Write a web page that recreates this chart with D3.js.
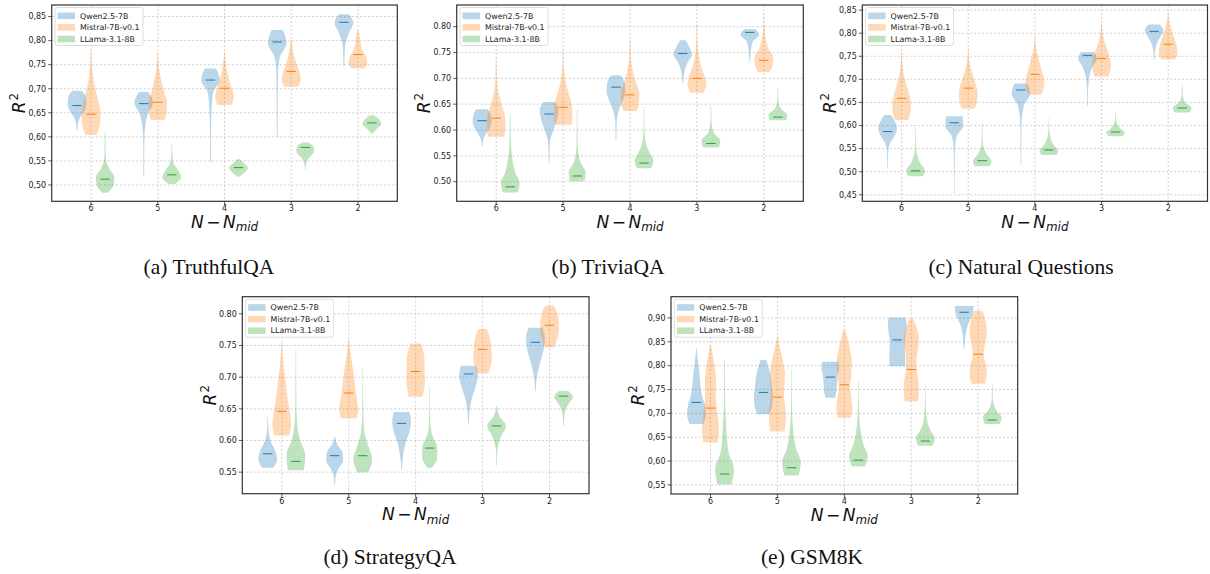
<!DOCTYPE html>
<html>
<head>
<meta charset="utf-8">
<script src="https://cdn.jsdelivr.net/npm/d3@7"></script>
<style>
  body { margin: 0; background: #fff; }
  svg { display: block; }
</style>
</head>
<body>
<svg id="fig" width="1210" height="574"></svg>
<script>
// groups on the x axis and the three models
const groups = ["6", "5", "4", "3", "2"];
const seriesNames = ["Qwen2.5-7B", "Mistral-7B-v0.1", "LLama-3.1-8B"];
const colors = ["#1f77b4", "#ff7f0e", "#2ca02c"];

// each violin: [min, max, median, relative widths sampled from min to max]
const truthfulQwen = [
  [0.613, 0.696, 0.665, [0.05, 0.1, 0.35, 0.8, 1.0, 0.95, 0.5]],
  [0.517, 0.693, 0.669, [0.04, 0.05, 0.05, 0.06, 0.08, 0.2, 0.45, 1.0, 0.5]],
  [0.545, 0.742, 0.718, [0.04, 0.05, 0.05, 0.06, 0.09, 0.15, 0.3, 1.0, 0.6]],
  [0.600, 0.822, 0.797, [0.04, 0.05, 0.05, 0.06, 0.07, 0.1, 0.3, 1.0, 0.6]],
  [0.746, 0.855, 0.838, [0.05, 0.07, 0.1, 0.25, 0.6, 1.0, 0.55]]
];
const truthfulMistral = [
  [0.604, 0.781, 0.647, [0.6, 0.95, 1.0, 0.8, 0.55, 0.3, 0.15, 0.07, 0.03]],
  [0.635, 0.777, 0.672, [0.75, 0.95, 1.0, 0.75, 0.5, 0.3, 0.15, 0.07, 0.03]],
  [0.666, 0.777, 0.701, [0.75, 1.0, 0.75, 0.45, 0.25, 0.12, 0.04]],
  [0.704, 0.801, 0.736, [0.75, 1.0, 0.85, 0.55, 0.3, 0.15, 0.05]],
  [0.742, 0.820, 0.771, [0.7, 1.0, 0.85, 0.45, 0.3, 0.2, 0.12]]
];
const truthfulLlama = [
  [0.484, 0.612, 0.512, [0.3, 0.9, 1.0, 0.5, 0.15, 0.07, 0.05, 0.04, 0.03]],
  [0.502, 0.586, 0.521, [0.35, 1.0, 0.7, 0.2, 0.07, 0.05, 0.03]],
  [0.517, 0.554, 0.536, [0.1, 0.7, 1.0, 0.6, 0.1]],
  [0.532, 0.588, 0.578, [0.04, 0.08, 0.2, 0.6, 0.95, 0.9, 0.3]],
  [0.607, 0.645, 0.629, [0.1, 0.5, 1.0, 0.8, 0.2]]
];

const triviaQwen = [
  [0.568, 0.640, 0.618, [0.04, 0.1, 0.4, 0.8, 1.0, 0.95, 0.6]],
  [0.534, 0.654, 0.631, [0.04, 0.05, 0.07, 0.12, 0.35, 0.65, 0.9, 1.0, 0.6]],
  [0.579, 0.706, 0.683, [0.04, 0.05, 0.07, 0.15, 0.4, 0.75, 1.0, 0.95, 0.5]],
  [0.690, 0.774, 0.748, [0.04, 0.1, 0.25, 0.55, 1.0, 0.7, 0.3]],
  [0.730, 0.795, 0.789, [0.04, 0.06, 0.1, 0.2, 0.4, 1.0, 0.6]]
];
const triviaMistral = [
  [0.587, 0.742, 0.623, [0.85, 1.0, 0.95, 0.65, 0.35, 0.15, 0.07, 0.04, 0.03]],
  [0.610, 0.756, 0.644, [0.9, 1.0, 0.95, 0.7, 0.4, 0.2, 0.08, 0.04, 0.03]],
  [0.637, 0.775, 0.668, [0.7, 0.95, 1.0, 0.7, 0.4, 0.2, 0.1, 0.05, 0.03]],
  [0.672, 0.806, 0.700, [0.7, 1.0, 0.8, 0.45, 0.25, 0.12, 0.06, 0.04, 0.03]],
  [0.712, 0.826, 0.735, [0.6, 0.95, 1.0, 0.55, 0.3, 0.15, 0.08, 0.04, 0.03]]
];
const triviaLlama = [
  [0.479, 0.632, 0.490, [0.8, 1.0, 0.55, 0.3, 0.15, 0.08, 0.05, 0.04, 0.03]],
  [0.501, 0.639, 0.511, [0.8, 0.9, 0.4, 0.15, 0.07, 0.05, 0.04, 0.03, 0.03]],
  [0.526, 0.645, 0.536, [0.75, 1.0, 0.6, 0.25, 0.1, 0.05, 0.04, 0.03, 0.03]],
  [0.566, 0.648, 0.574, [0.85, 1.0, 0.35, 0.12, 0.05, 0.04, 0.03]],
  [0.619, 0.681, 0.625, [0.9, 1.0, 0.4, 0.12, 0.05, 0.04, 0.03]]
];

const naturalQwen = [
  [0.507, 0.623, 0.587, [0.04, 0.04, 0.05, 0.1, 0.35, 0.8, 1.0, 0.8, 0.35]],
  [0.453, 0.620, 0.606, [0.04, 0.04, 0.04, 0.05, 0.06, 0.1, 0.3, 0.95, 0.9]],
  [0.514, 0.691, 0.677, [0.04, 0.04, 0.05, 0.05, 0.07, 0.15, 0.4, 1.0, 0.7]],
  [0.642, 0.759, 0.752, [0.04, 0.04, 0.05, 0.08, 0.15, 0.3, 0.6, 1.0, 0.7]],
  [0.742, 0.819, 0.804, [0.04, 0.06, 0.15, 0.35, 0.7, 1.0, 0.6]]
];
const naturalMistral = [
  [0.612, 0.760, 0.659, [0.7, 0.95, 1.0, 0.8, 0.55, 0.3, 0.15, 0.07, 0.03]],
  [0.637, 0.768, 0.681, [0.7, 0.95, 1.0, 0.85, 0.6, 0.35, 0.15, 0.07, 0.03]],
  [0.667, 0.792, 0.711, [0.7, 0.95, 1.0, 0.8, 0.6, 0.4, 0.2, 0.08, 0.03]],
  [0.706, 0.824, 0.745, [0.75, 0.95, 1.0, 0.85, 0.6, 0.35, 0.18, 0.08, 0.03]],
  [0.743, 0.843, 0.776, [0.7, 1.0, 0.95, 0.8, 0.6, 0.4, 0.22, 0.1, 0.03]]
];
const naturalLlama = [
  [0.490, 0.597, 0.502, [0.8, 1.0, 0.55, 0.25, 0.1, 0.05, 0.04, 0.03, 0.03]],
  [0.512, 0.605, 0.524, [0.8, 1.0, 0.55, 0.25, 0.1, 0.05, 0.04, 0.03, 0.03]],
  [0.536, 0.615, 0.547, [0.8, 1.0, 0.6, 0.3, 0.15, 0.07, 0.04, 0.03, 0.03]],
  [0.577, 0.626, 0.586, [0.7, 1.0, 0.55, 0.2, 0.08, 0.04, 0.03]],
  [0.628, 0.691, 0.638, [0.8, 1.0, 0.4, 0.12, 0.05, 0.04, 0.03]]
];

const strategyQwen = [
  [0.557, 0.638, 0.579, [0.6, 1.0, 0.8, 0.35, 0.12, 0.05, 0.03]],
  [0.530, 0.606, 0.576, [0.04, 0.1, 0.4, 0.9, 0.85, 0.3, 0.04]],
  [0.554, 0.645, 0.627, [0.04, 0.1, 0.25, 0.5, 0.85, 1.0, 0.85]],
  [0.625, 0.718, 0.705, [0.04, 0.08, 0.2, 0.45, 0.8, 1.0, 0.8]],
  [0.678, 0.778, 0.755, [0.04, 0.1, 0.3, 0.6, 0.9, 1.0, 0.75]]
];
const strategyMistral = [
  [0.608, 0.754, 0.646, [0.8, 1.0, 0.85, 0.65, 0.5, 0.35, 0.2, 0.1, 0.03]],
  [0.635, 0.759, 0.675, [0.85, 1.0, 0.85, 0.7, 0.6, 0.45, 0.3, 0.15, 0.03]],
  [0.669, 0.753, 0.709, [0.75, 0.9, 1.0, 0.95, 0.95, 0.85, 0.55]],
  [0.706, 0.776, 0.744, [0.6, 0.85, 1.0, 0.95, 0.9, 0.75, 0.45]],
  [0.747, 0.813, 0.782, [0.5, 0.75, 0.95, 1.0, 0.95, 0.8, 0.45]]
];
const strategyLlama = [
  [0.553, 0.743, 0.567, [0.85, 1.0, 0.45, 0.15, 0.07, 0.05, 0.04, 0.03, 0.03]],
  [0.550, 0.714, 0.576, [0.6, 1.0, 0.6, 0.2, 0.08, 0.05, 0.04, 0.03, 0.03]],
  [0.557, 0.685, 0.588, [0.25, 0.8, 0.8, 0.35, 0.1, 0.05, 0.04, 0.03, 0.03]],
  [0.561, 0.654, 0.623, [0.04, 0.05, 0.15, 0.5, 1.0, 0.3, 0.04]],
  [0.622, 0.678, 0.670, [0.04, 0.06, 0.1, 0.25, 0.6, 1.0, 0.5]]
];

const gsmQwen = [
  [0.678, 0.836, 0.723, [0.75, 1.0, 0.9, 0.6, 0.45, 0.35, 0.25, 0.12, 0.04]],
  [0.698, 0.812, 0.744, [0.65, 0.95, 1.0, 0.9, 0.8, 0.6, 0.3]],
  [0.733, 0.808, 0.776, [0.5, 0.65, 0.7, 0.75, 0.8, 0.95, 0.85]],
  [0.799, 0.901, 0.854, [0.85, 0.85, 0.8, 0.8, 0.9, 1.0, 0.9]],
  [0.834, 0.925, 0.912, [0.04, 0.08, 0.15, 0.3, 0.6, 0.95, 1.0]]
];
const gsmMistral = [
  [0.639, 0.842, 0.711, [0.75, 0.9, 0.8, 0.65, 0.55, 0.6, 0.5, 0.3, 0.08]],
  [0.662, 0.859, 0.734, [0.75, 0.9, 0.85, 0.7, 0.75, 0.8, 0.6, 0.3, 0.05]],
  [0.691, 0.875, 0.760, [0.7, 0.85, 0.7, 0.6, 0.75, 0.8, 0.65, 0.4, 0.1]],
  [0.725, 0.899, 0.792, [0.7, 0.8, 0.75, 0.6, 0.55, 0.7, 0.8, 0.6, 0.2]],
  [0.762, 0.915, 0.824, [0.7, 0.9, 0.85, 0.6, 0.65, 0.85, 0.9, 0.75, 0.45]]
];
const gsmLlama = [
  [0.551, 0.812, 0.573, [0.75, 1.0, 0.45, 0.25, 0.15, 0.08, 0.05, 0.04, 0.03]],
  [0.570, 0.791, 0.586, [0.75, 1.0, 0.5, 0.25, 0.12, 0.06, 0.04, 0.03, 0.03]],
  [0.589, 0.767, 0.602, [0.7, 1.0, 0.55, 0.3, 0.15, 0.08, 0.04, 0.03, 0.03]],
  [0.632, 0.760, 0.642, [0.75, 1.0, 0.55, 0.25, 0.12, 0.06, 0.04, 0.03, 0.03]],
  [0.678, 0.760, 0.686, [0.8, 1.0, 0.45, 0.15, 0.06, 0.04, 0.03]]
];

// y tick labels of each panel
const ticksA = [0.50, 0.55, 0.60, 0.65, 0.70, 0.75, 0.80, 0.85];
const ticksB = [0.50, 0.55, 0.60, 0.65, 0.70, 0.75, 0.80];
const ticksC = [0.45, 0.50, 0.55, 0.60, 0.65, 0.70, 0.75, 0.80, 0.85];
const ticksD = [0.55, 0.60, 0.65, 0.70, 0.75, 0.80];
const ticksE = [0.55, 0.60, 0.65, 0.70, 0.75, 0.80, 0.85, 0.90];

const panels = [
  { caption: "(a) TruthfulQA", left: 51.7, top: 5, w: 345.6, h: 196.3, ylim: [0.466, 0.874], ticks: ticksA, comma: true,
    data: [truthfulQwen, truthfulMistral, truthfulLlama], capX: 209, capY: 274 },
  { caption: "(b) TriviaQA", left: 456.7, top: 5, w: 346.6, h: 196.3, ylim: [0.462, 0.842], ticks: ticksB, comma: false,
    data: [triviaQwen, triviaMistral, triviaLlama], capX: 608, capY: 274 },
  { caption: "(c) Natural Questions", left: 862.3, top: 5, w: 345.2, h: 196.3, ylim: [0.436, 0.861], ticks: ticksC, comma: true,
    data: [naturalQwen, naturalMistral, naturalLlama], capX: 1021, capY: 274 },
  { caption: "(d) StrategyQA", left: 242.3, top: 296.7, w: 346.7, h: 197, ylim: [0.516, 0.827], ticks: ticksD, comma: false,
    data: [strategyQwen, strategyMistral, strategyLlama], capX: 390, capY: 564 },
  { caption: "(e) GSM8K", left: 671, top: 296.7, w: 346.7, h: 197.3, ylim: [0.531, 0.9446], ticks: ticksE, comma: true,
    data: [gsmQwen, gsmMistral, gsmLlama], capX: 812, capY: 564 }
];

const svg = d3.select("#fig");
const offsets = [-0.21, 0, 0.21];
const vWidth = 0.28; // violin width in x units
const font = "'DejaVu Sans', sans-serif";

function drawPanel(p) {
  let g = svg.append("g");
  let x = d3.scaleLinear().domain([-0.59, 4.59]).range([p.left, p.left + p.w]);
  let y = d3.scaleLinear().domain(p.ylim).range([p.top + p.h, p.top]);
  let fmt = d3.format(".2f");
  let label = v => p.comma ? fmt(v).replace(".", ",") : fmt(v);

  // grid
  g.append("g").selectAll("line").data(p.ticks).enter().append("line")
    .attr("x1", p.left).attr("x2", p.left + p.w)
    .attr("y1", d => y(d)).attr("y2", d => y(d))
    .attr("stroke", "#c4c4c4").attr("stroke-width", 0.8).attr("stroke-dasharray", "2,2");
  g.append("g").selectAll("line").data(groups).enter().append("line")
    .attr("x1", (d, i) => x(i)).attr("x2", (d, i) => x(i))
    .attr("y1", p.top).attr("y2", p.top + p.h)
    .attr("stroke", "#c4c4c4").attr("stroke-width", 0.8).attr("stroke-dasharray", "2,2");

  // violins
  let half = (x(vWidth) - x(0)) / 2;
  p.data.forEach(function(series, s) {
    series.forEach(function(v, i) {
      let cx = x(i + offsets[s]);
      let n = v[3].length;
      let pts = v[3].map((w, k) => ({ val: v[0] + k * (v[1] - v[0]) / (n - 1), w: w }));
      let area = d3.area()
        .curve(d3.curveMonotoneY)
        .y(d => y(d.val))
        .x0(d => cx - d.w * half)
        .x1(d => cx + d.w * half);
      g.append("path").attr("d", area(pts))
        .attr("fill", colors[s]).attr("fill-opacity", 0.3);
      g.append("line")
        .attr("x1", cx - half / 2).attr("x2", cx + half / 2)
        .attr("y1", y(v[2])).attr("y2", y(v[2]))
        .attr("stroke", colors[s]).attr("stroke-width", 1);
    });
  });

  // spines
  g.append("rect").attr("x", p.left).attr("y", p.top).attr("width", p.w).attr("height", p.h)
    .attr("fill", "none").attr("stroke", "#333").attr("stroke-width", 1.2);

  // y ticks
  let yt = g.append("g").selectAll("g").data(p.ticks).enter().append("g");
  yt.append("line").attr("x1", p.left - 3.5).attr("x2", p.left)
    .attr("y1", d => y(d)).attr("y2", d => y(d)).attr("stroke", "#333").attr("stroke-width", 0.8);
  yt.append("text").attr("x", p.left - 5.5).attr("y", d => y(d)).attr("dy", "0.35em")
    .attr("text-anchor", "end").attr("font-family", font).attr("font-size", 8).attr("fill", "#222")
    .text(label);

  // x ticks
  let xt = g.append("g").selectAll("g").data(groups).enter().append("g");
  xt.append("line").attr("x1", (d, i) => x(i)).attr("x2", (d, i) => x(i))
    .attr("y1", p.top + p.h).attr("y2", p.top + p.h + 3.5).attr("stroke", "#333").attr("stroke-width", 0.8);
  xt.append("text").attr("x", (d, i) => x(i)).attr("y", p.top + p.h + 7).attr("dy", "0.35em")
    .attr("text-anchor", "middle").attr("font-family", font).attr("font-size", 8).attr("fill", "#222")
    .text(d => d);

  // axis labels
  let xl = g.append("text").attr("x", p.left + p.w / 2).attr("y", p.top + p.h + 26.5)
    .attr("text-anchor", "middle").attr("font-family", font).attr("font-size", 17).attr("fill", "#111");
  xl.append("tspan").attr("font-style", "italic").text("N");
  xl.append("tspan").attr("dx", 2.5).text("\u2212");
  xl.append("tspan").attr("dx", 2.5).attr("font-style", "italic").text("N");
  xl.append("tspan").attr("font-style", "italic").attr("font-size", 11.9).attr("dy", 3.5).text("mid");

  let yl = g.append("text")
    .attr("transform", "translate(" + (p.left - 26.7) + "," + (p.top + p.h / 2) + ") rotate(-90)")
    .attr("text-anchor", "middle").attr("font-family", font).attr("font-size", 17).attr("fill", "#111");
  yl.append("tspan").attr("font-style", "italic").text("R");
  yl.append("tspan").attr("font-size", 11.9).attr("dy", -7).attr("dx", 1).text("2");

  // legend
  let lx = p.left + 3.3, ly = p.top + 2.5;
  let lg = g.append("g");
  lg.append("rect").attr("x", lx).attr("y", ly).attr("width", 88).attr("height", 38).attr("rx", 2.5)
    .attr("fill", "#fff").attr("fill-opacity", 0.85).attr("stroke", "#d6d6d6").attr("stroke-width", 0.8);
  seriesNames.forEach(function(name, s) {
    let ry = ly + 8.3 + s * 11.6;
    lg.append("rect").attr("x", lx + 2.5).attr("y", ry - 3.3).attr("width", 17.5).attr("height", 6.6)
      .attr("fill", colors[s]).attr("fill-opacity", 0.3);
    lg.append("text").attr("x", lx + 25).attr("y", ry).attr("dy", "0.35em")
      .attr("font-family", font).attr("font-size", 7.9).attr("fill", "#222").text(name);
  });

  // caption
  svg.append("text").attr("x", p.capX).attr("y", p.capY).attr("text-anchor", "middle")
    .attr("font-family", "'Liberation Serif', 'Times New Roman', serif").attr("font-size", 21.5)
    .attr("fill", "#111").text(p.caption);
}

panels.forEach(drawPanel);
</script>
</body>
</html>
